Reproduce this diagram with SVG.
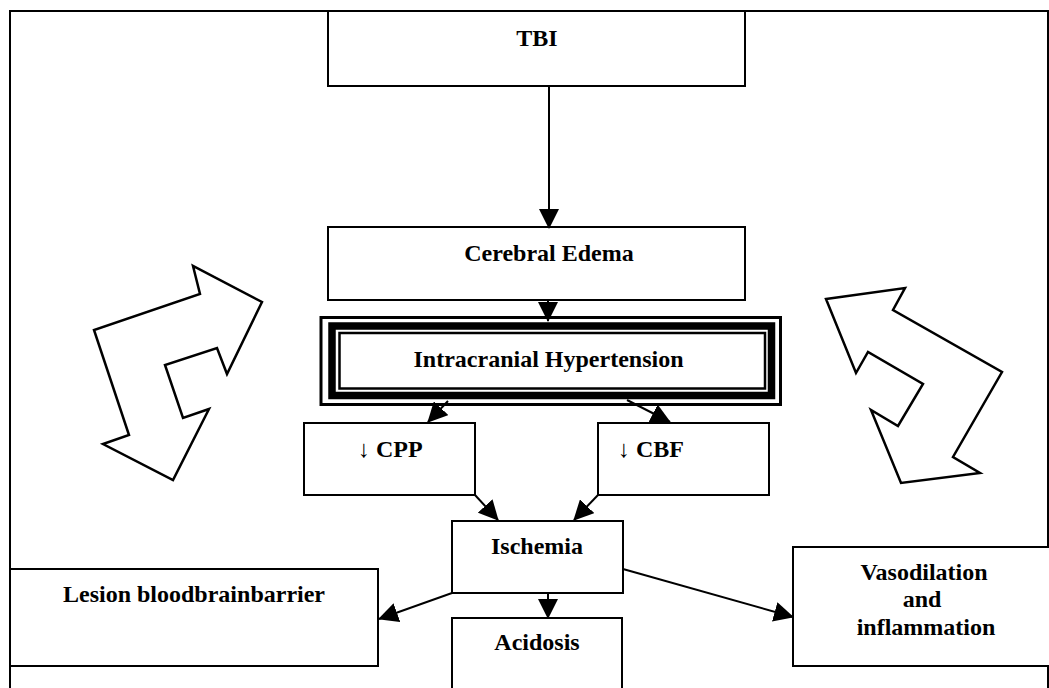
<svg xmlns="http://www.w3.org/2000/svg" width="1049" height="688" viewBox="0 0 1049 688">
<style>
.box{fill:#fff;stroke:#000;stroke-width:2}
.t{font-family:"Liberation Serif","Times New Roman",serif;font-weight:bold;font-size:24px;fill:#000}
.c{text-anchor:middle}
.con{stroke:#000;stroke-width:2;fill:none;marker-end:url(#ah)}
.big{fill:#fff;stroke:#000;stroke-width:2.5;stroke-linejoin:miter}
</style>
<defs>
<marker id="ah" markerUnits="userSpaceOnUse" markerWidth="20" markerHeight="20" refX="19" refY="10" orient="auto">
<path d="M0,0 L20,10 L0,20 z" fill="#000"/>
</marker>
</defs>
<rect width="1049" height="688" fill="#fff"/>
<g id="frame"><rect x="10" y="11" width="1038" height="720" fill="none" stroke="#000" stroke-width="2"/></g>

<g id="loop-left"><polygon class="big" points="262,302 227,374 217,348 165,365 183,418 209,409 173,480 103,444 129,435 94,330 200,294 193,266"/></g>
<g id="loop-right"><polygon class="big" points="826,299 905,288 893,310 1002,372 953,457 980,473 901,483 871,410 898,426 923,384 868,352 856,373"/></g>

<g id="tbi"><rect class="box" x="328" y="11" width="417" height="75"/><text class="t c" x="537" y="46">TBI</text></g>
<g id="edema"><rect class="box" x="328" y="227" width="417" height="73"/><text class="t c" x="549" y="261">Cerebral Edema</text></g>
<g id="ich">
<rect x="321" y="317.5" width="459.5" height="87" fill="#fff" stroke="#000" stroke-width="3"/>
<rect x="332" y="326" width="439.5" height="69.5" fill="none" stroke="#000" stroke-width="7.5"/>
<rect x="339.5" y="333" width="425.5" height="55.5" fill="none" stroke="#000" stroke-width="2.5"/>
<text class="t c" x="548.5" y="367">Intracranial Hypertension</text>
</g>
<g id="cpp"><rect class="box" x="304" y="423" width="171" height="72"/><text class="t" x="358" y="457">↓ CPP</text></g>
<g id="cbf"><rect class="box" x="598" y="423" width="171" height="72"/><text class="t" x="618" y="457">↓ CBF</text></g>
<g id="ischemia"><rect class="box" x="452" y="521" width="171" height="72"/><text class="t c" x="537" y="554">Ischemia</text></g>
<g id="lesion"><rect class="box" x="10" y="569" width="368" height="97"/><text class="t c" x="194" y="602">Lesion bloodbrainbarrier</text></g>
<g id="acidosis"><rect class="box" x="452" y="618" width="170" height="100"/><text class="t c" x="537" y="650">Acidosis</text></g>
<g id="vaso"><rect class="box" x="793" y="547" width="270" height="119"/>
<text class="t c" x="924" y="580">Vasodilation</text>
<text class="t c" x="922" y="607">and</text>
<text class="t c" x="926" y="635">inflammation</text></g>

<g id="connectors">
<line class="con" x1="549" y1="86" x2="549" y2="228"/>
<line class="con" x1="548" y1="300" x2="548" y2="321"/>
<line class="con" x1="448" y1="401" x2="428" y2="422"/>
<line class="con" x1="627" y1="400" x2="670" y2="422"/>
<line class="con" x1="475" y1="495" x2="498" y2="520"/>
<line class="con" x1="598" y1="495" x2="574" y2="520"/>
<line class="con" x1="452" y1="593" x2="379" y2="619"/>
<line class="con" x1="548" y1="593" x2="548" y2="618"/>
<line class="con" x1="623" y1="569" x2="793" y2="617"/>
</g>
</svg>
